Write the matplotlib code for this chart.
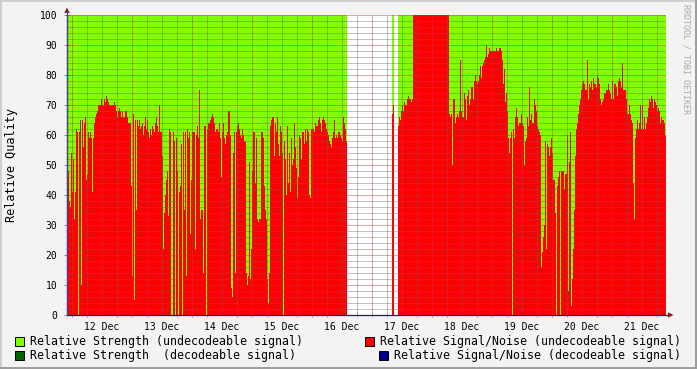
import numpy as np
import matplotlib
matplotlib.use("Agg")
import matplotlib.pyplot as plt
from matplotlib.patches import Rectangle, Polygon
from matplotlib.lines import Line2D

plt.rcParams["lines.scale_dashes"] = False

nan = float("nan")

# ---------------- data ----------------
# Relative Signal/Noise, one value per 24-minute step, starting 11 Dec 22:12
sn_part1 = [50, 48, 38, 36, 54, 41, 52, 32, 41, 62, 61, 0, 61, 65, 10, 65, 56, 64, 66, 45,
            47, 61, 59, 61, 59, 41, 59, 64, 66, 67, 68, 70, 70, 70, 72, 70, 70, 72, 71, 73,
            72, 71, 70, 70, 70, 70, 70, 71, 70, 68, 66, 68, 69, 68, 66, 68, 66, 66, 68, 68,
            66, 64, 64, 64, 43, 13, 67, 5, 65, 35, 65, 63, 65, 62, 63, 64, 60, 63, 66, 62,
            65, 61, 59, 62, 60, 63, 62, 61, 64, 66, 63, 61, 70, 61, 61, 53, 22]
sn_part2 = [34, 40, 45, 48, 33, 62, 61, 0, 0, 61, 58, 0, 59, 48, 0, 41, 43, 57, 0, 61,
            35, 61, 13, 62, 59, 61, 27, 45, 61, 61, 61, 22, 60, 63, 59, 75, 32, 35, 35, 14,
            63, 63, 0, 62, 64, 64, 65, 66, 67, 66, 64, 61, 62, 62, 61, 64, 59, 46, 61, 64,
            59, 57, 60, 61, 68, 68, 60, 9, 6, 54, 61, 14, 61, 63, 64, 62, 60, 59, 62, 60,
            58, 58, 14, 10, 13, 51, 12, 22, 48, 61, 61, 44, 59, 32, 31, 32, 32, 61, 61, 59]
sn_part3 = [43, 35, 32, 12, 4, 14, 63, 65, 66, 66, 53, 64, 61, 66, 57, 53, 63, 61, 54, 0,
            58, 52, 40, 63, 44, 54, 41, 59, 50, 52, 64, 56, 49, 39, 46, 60, 59, 52, 61, 61,
            57, 62, 58, 62, 61, 40, 39, 62, 62, 62, 61, 64, 63, 63, 65, 66, 64, 61, 65, 66,
            65, 64, 62, 61, 60, 58, 57, 56, 59, 61, 65, 59, 60, 59, 61, 61, 60, 59, 58, 66,
            64, 62, 58]
gap1 = [nan] * 45
sn_part4 = [67, 70]
gap2 = [nan] * 4
sn_part5 = ([63, 66, 65, 68, 70, 68, 71, 70, 70, 72, 73, 72, 72, 71, 72]
            + [100] * 36
            + [67, 66, 67, 50, 72, 72, 64, 66, 67, 66, 68, 85, 68, 66, 66])
sn_part6 = [74, 72, 65, 73, 75, 70, 72, 76, 76, 72, 78, 80, 78, 77, 78, 80, 83, 79, 83, 84,
            85, 86, 90, 86, 87, 89, 88, 88, 88, 88, 88, 88, 89, 88, 88, 89, 89, 88, 85, 77,
            82, 71, 74, 68, 59, 54, 59, 61, 0, 62, 59, 66, 69, 66, 63, 64, 64, 67, 64, 63,
            50, 58, 59, 66, 63, 76, 65, 67, 64, 64, 72, 70, 68, 63, 62, 61, 60, 16, 21, 26,
            30, 58, 22, 57, 56, 53, 56, 59, 54, 45, 45, 34, 0, 43, 46, 48, 0, 48, 48, 48]
sn_part7 = [42, 47, 47, 60, 8, 51, 61, 3, 12, 22, 35, 53, 62, 64, 67, 70, 72, 75, 77, 78,
            77, 75, 75, 85, 72, 77, 76, 78, 75, 79, 77, 77, 76, 80, 79, 77, 72, 70, 71, 72,
            74, 74, 75, 75, 77, 75, 74, 72, 78, 72, 77, 77, 76, 73, 78, 79, 78, 76, 84, 75,
            75, 75, 72, 67, 67, 70, 67, 65, 64, 44, 32, 59, 62, 65, 62, 64, 70, 62, 70, 62,
            66, 62, 64, 66, 69, 72, 71, 73, 72, 69, 72, 71, 70, 68, 69, 68, 64, 66, 65, 65,
            64, 60]

signal_noise = np.array(sn_part1 + sn_part2 + sn_part3 + gap1 + sn_part4 + gap2
                        + sn_part5 + sn_part6 + sn_part7, dtype=float)
strength_level = 100.0
strength = np.where(np.isnan(signal_noise), nan, strength_level)

START_DAY = 11 + 22.2 / 24      # 11 Dec 22:12 (day of December)
STEP_DAYS = 24 / 1440           # 24 minutes
times = START_DAY + np.arange(len(signal_noise)) * STEP_DAYS

day_labels = ["12 Dec", "13 Dec", "14 Dec", "15 Dec", "16 Dec",
              "17 Dec", "18 Dec", "19 Dec", "20 Dec", "21 Dec"]
label_days = [12, 13, 14, 15, 16, 17, 18, 19, 20, 21]

legend_left = ["Relative Strength (undecodeable signal)",
               "Relative Strength  (decodeable signal)"]
legend_right = ["Relative Signal/Noise (undecodeable signal)",
                "Relative Signal/Noise (decodeable signal)"]

# ---------------- figure ----------------
W, H = 697, 369
MONO = "DejaVu Sans Mono"
fig = plt.figure(figsize=(W / 100, H / 100), dpi=100, facecolor="#F3F3F3")


def fx(x):
    return x / W


def fy(y):
    return 1 - y / H


# 3D frame
fig.add_artist(Rectangle((0, fy(2)), 1, 2 / H, transform=fig.transFigure,
                         facecolor="#CFCFCF", edgecolor="none"))
fig.add_artist(Rectangle((0, 0), 2 / W, 1, transform=fig.transFigure,
                         facecolor="#CFCFCF", edgecolor="none"))
fig.add_artist(Rectangle((0, 0), 1, 2 / H, transform=fig.transFigure,
                         facecolor="#9E9E9E", edgecolor="none"))
fig.add_artist(Rectangle((1 - 2 / W, 0), 2 / W, 1, transform=fig.transFigure,
                         facecolor="#9E9E9E", edgecolor="none"))

ax = fig.add_axes([fx(67), 54 / H, 599 / W, 300 / H])
ax.set_facecolor("white")

ax.bar(times, strength, width=STEP_DAYS, align="edge", color="#7FFF00",
       linewidth=0, antialiased=False, zorder=1)
ax.bar(times, signal_noise, width=STEP_DAYS, align="edge", color="#FF0000",
       linewidth=0, antialiased=False, zorder=2)

x0 = START_DAY
x1 = START_DAY + len(signal_noise) * STEP_DAYS
ax.set_xlim(x0, x1)
ax.set_ylim(0, 100)

# grid (dotted 1px on / 1px off)
minor_col = (0.40, 0.40, 0.40, 0.40)
major_col = (0.80, 0.20, 0.20, 0.45)
grid_kw = dict(lw=0.72, dashes=(0.72, 0.72), zorder=3, antialiased=False)
for v in range(2, 100, 2):
    if v % 10:
        ax.axhline(v, color=minor_col, **grid_kw)
for v in range(10, 101, 10):
    ax.axhline(v, color=major_col, **grid_kw)
q = np.arange(np.ceil(x0 * 4) / 4, x1, 0.25)
for d in q:
    if abs(d - round(d)) > 1e-6:
        ax.axvline(d, color=minor_col, **grid_kw)
    else:
        ax.axvline(d, color=major_col, **grid_kw)

for s in ["top", "right"]:
    ax.spines[s].set_visible(False)
ax.spines["left"].set_color("#4a3f8f")
ax.spines["bottom"].set_color("#22224f")
ax.spines["left"].set_linewidth(0.9)
ax.spines["bottom"].set_linewidth(0.9)
ax.spines["left"].set_zorder(5)
ax.spines["bottom"].set_zorder(5)

ax.set_yticks(range(0, 101, 10))
ax.set_yticklabels([str(v) for v in range(0, 101, 10)])
ax.set_yticks(range(0, 101, 2), minor=True)
ax.tick_params(axis="y", which="major", length=4, direction="inout",
               color="#8a8a8a", width=0.72, pad=5, labelsize=7)
ax.tick_params(axis="y", which="minor", length=2, direction="inout",
               color="#aaaaaa", width=0.72)
ax.set_xticks([d + 0.5 for d in label_days])
ax.set_xticklabels(day_labels)
ax.set_xticks(q, minor=True)
ax.tick_params(axis="x", which="major", length=0, pad=5, labelsize=7)
ax.tick_params(axis="x", which="minor", length=3, direction="inout",
               color="#c89090", width=0.72)
for lab in ax.get_xticklabels() + ax.get_yticklabels():
    lab.set_family(MONO)

# axis extensions and arrows
arrow_col = "#7F1F1F"
fig.add_artist(Line2D([fx(67), fx(67)], [fy(315), fy(11)], color="#4a3f8f",
                      lw=0.9, transform=fig.transFigure))
fig.add_artist(Line2D([fx(666), fx(670)], [fy(315), fy(315)], color=arrow_col,
                      lw=0.9, transform=fig.transFigure))
fig.add_artist(Polygon([(fx(64.3), fy(13)), (fx(69.7), fy(13)), (fx(67), fy(7.5))],
                       closed=True, transform=fig.transFigure,
                       facecolor=arrow_col, edgecolor="none"))
fig.add_artist(Polygon([(fx(668), fy(312.3)), (fx(668), fy(317.7)), (fx(673.5), fy(315))],
                       closed=True, transform=fig.transFigure,
                       facecolor=arrow_col, edgecolor="none"))

# y label
fig.text(fx(12), fy(165), "Relative Quality", rotation=90, ha="center",
         va="center", family=MONO, fontsize=8.5, color="black")

# watermark
fig.text(fx(686), fy(4), "RRDTOOL / TOBI OETIKER", rotation=270, ha="center",
         va="top", family=MONO, fontsize=6, color="#a8a8a8")

# legend
rows_y = [341, 355]
leg_cols_left = ["#7FFF00", "#006400"]
leg_cols_right = ["#FF0000", "#00008B"]
char_w = 6.97
for i, (txt, col) in enumerate(zip(legend_left, leg_cols_left)):
    y = rows_y[i]
    fig.add_artist(Rectangle((fx(15), fy(y + 4.5)), 9 / W, 9 / H,
                             transform=fig.transFigure, facecolor=col,
                             edgecolor="black", lw=0.72))
    fig.text(fx(30), fy(y), txt, ha="left", va="center", family=MONO,
             fontsize=8.33, color="black")
for i, (txt, col) in enumerate(zip(legend_right, leg_cols_right)):
    y = rows_y[i]
    start = 680 - len(txt) * char_w
    fig.add_artist(Rectangle((fx(start - 15), fy(y + 4.5)), 9 / W, 9 / H,
                             transform=fig.transFigure, facecolor=col,
                             edgecolor="black", lw=0.72))
    fig.text(fx(start), fy(y), txt, ha="left", va="center", family=MONO,
             fontsize=8.33, color="black")

fig.savefig("out.png", dpi=100, facecolor=fig.get_facecolor())
